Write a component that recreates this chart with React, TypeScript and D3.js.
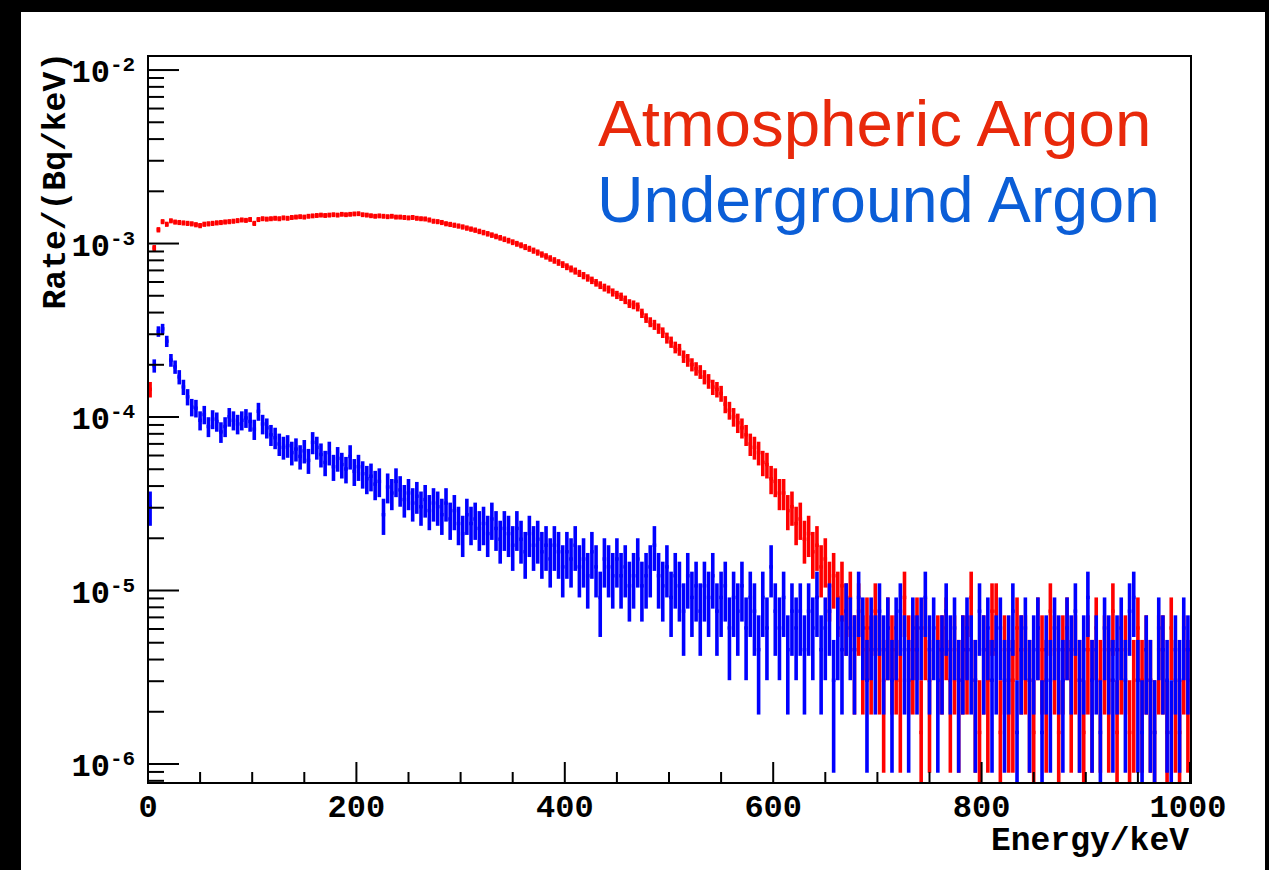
import React from "react";
import * as d3 from "d3";

// Histogram binning (keV) and the rate carried by one count (Bq/keV)
const binWidth = 4;
const countUnit = 1.52e-6;

// Atmospheric argon: counts per 4 keV bin, 0 - 1000 keV
const atmosphericCounts = [
  95, 620, 790, 880, 850, 890, 875, 870, 865, 860,
  855, 845, 835, 850, 855, 860, 866, 870, 876, 880,
  885, 892, 900, 895, 905, 860, 905, 915, 910, 915,
  920, 915, 925, 920, 930, 935, 940, 935, 945, 950,
  955, 960, 955, 960, 965, 960, 970, 965, 970, 975,
  978, 965, 960, 952, 945, 950, 945, 940, 945, 935,
  935, 930, 925, 930, 920, 915, 912, 900, 885, 880,
  870, 856, 848, 839, 830, 820, 808, 797, 786, 773,
  761, 749, 736, 723, 710, 697, 684, 670, 656, 643,
  628, 614, 599, 584, 569, 555, 540, 526, 512, 498,
  484, 470, 457, 443, 430, 417, 404, 391, 379, 367,
  358, 344, 333, 325, 312, 297, 292, 284, 261, 245,
  232, 224, 213, 202, 188, 178, 166, 161, 147, 140,
  132, 125, 120, 112, 106, 98, 95, 90, 78, 72,
  66, 61, 57, 52, 46, 44, 41, 36, 35, 29,
  28, 24, 24, 19, 20, 16, 17, 13, 14, 11,
  12, 9, 10, 7, 8, 6, 7, 5, 6, 3,
  5, 3, 4, 3, 5, 3, 2, 4, 3, 3,
  2, 6, 3, 3, 4, 1, 4, 2, 0, 3,
  3, 4, 2, 3, 2, 3, 3, 6, 2, 1,
  3, 2, 5, 5, 1, 3, 2, 2, 4, 3,
  3, 2, 1, 4, 3, 2, 5, 3, 1, 3,
  4, 2, 3, 2, 1, 3, 2, 4, 2, 3,
  2, 5, 1, 3, 3, 1, 2, 4, 2, 3,
  2, 1, 3, 3, 1, 4, 2, 1, 3, 2,
];

// Underground argon: counts per 4 keV bin, 0 - 1000 keV
const undergroundCounts = [
  20, 130, 205, 212, 180, 140, 128, 112, 98, 86,
  75, 74, 63, 68, 58, 64, 62, 54, 58, 66,
  63, 60, 63, 65, 62, 56, 71, 60, 57, 52,
  50, 46, 44, 45, 41, 43, 39, 42, 37, 47,
  44, 40, 36, 41, 34, 38, 35, 33, 39, 32,
  34, 31, 29, 30, 27, 28, 18, 26, 24, 28,
  25, 22, 24, 21, 23, 20, 22, 19, 21, 20,
  18, 21, 17, 19, 16, 14, 18, 16, 17, 15,
  16, 14, 17, 15, 13, 15, 14, 12, 15, 13,
  11, 14, 12, 13, 11, 12, 10, 12, 11, 9,
  11, 10, 12, 9, 10, 8, 11, 9, 6, 10,
  9, 8, 10, 8, 9, 7, 8, 10, 7, 8,
  9, 12, 8, 7, 9, 6, 8, 7, 5, 8,
  6, 7, 5, 7, 6, 8, 5, 6, 7, 4,
  6, 5, 7, 4, 6, 5, 3, 6, 4, 9,
  5, 4, 6, 3, 5, 4, 5, 3, 5, 4,
  6, 3, 4, 5, 2, 4, 3, 5, 4, 3,
  6, 4, 2, 4, 3, 5, 3, 4, 2, 4,
  5, 3, 2, 4, 3, 4, 6, 3, 4, 2,
  3, 5, 3, 4, 2, 3, 4, 3, 2, 5,
  3, 4, 2, 3, 4, 2, 3, 5, 1, 3,
  4, 2, 3, 4, 1, 3, 2, 4, 3, 2,
  4, 3, 5, 2, 3, 6, 2, 3, 1, 4,
  3, 2, 3, 4, 2, 5, 6, 2, 1, 3,
  2, 1, 4, 3, 2, 1, 3, 2, 4, 3,
];

const xMajorTicks = [0, 200, 400, 600, 800, 1000];
const xMinorStep = 50;
const yDecades = [-6, -5, -4, -3, -2];
const legendLabels = ["Atmospheric Argon", "Underground Argon"];
const xTitle = "Energy/keV";
const yTitle = "Rate/(Bq/keV)";

export default function App() {
  const W = 1269;
  const H = 870;
  const L = 148, R = 1191, T = 56, B = 783;
  const x = d3.scaleLinear().domain([0, 1000]).range([148, 1190]);
  const y = d3.scaleLog().domain([7.77e-7, 1.205e-2]).range([B, T]);
  const yMin = y.domain()[0];
  const mono = "'Liberation Mono', 'Courier New', monospace";
  const sans = "'Liberation Sans', Arial, Helvetica, sans-serif";

  const hist = (counts: number[], color: string, key: string) =>
    counts.map((n, i) => {
      if (n <= 0) return null;
      const e0 = i * binWidth;
      const e1 = e0 + binWidth;
      const xc = x(e0 + binWidth / 2);
      const v = n * countUnit;
      const err = Math.sqrt(n) * countUnit;
      const yv = y(v);
      const yh = y(v + err);
      const lo = v - err;
      const yl = lo > yMin ? y(lo) : B + 3;
      return (
        <g key={key + i}>
          <rect x={xc - 1.8} y={yh} width={3.6} height={Math.max(yl - yh, 1)} fill={color} />
          <rect x={x(e0) + 0.3} y={yv - 1.7} width={x(e1) - x(e0) - 0.6} height={3.4} fill={color} />
        </g>
      );
    });

  const xMinor: number[] = [];
  for (let e = 0; e <= 1000; e += xMinorStep) if (e % 200 !== 0) xMinor.push(e);

  const yMinor: number[] = [];
  for (let d = -7; d <= -2; d++) {
    for (let m = 2; m <= 9; m++) {
      const v = m * Math.pow(10, d);
      if (v >= yMin && v <= y.domain()[1]) yMinor.push(v);
    }
  }

  return (
    <svg width={W} height={H} style={{ position: "absolute", left: 0, top: 0, display: "block" }}>
      <rect x={0} y={0} width={W} height={H} fill="#000" />
      <rect x={21} y={12} width={1244} height={H - 12} fill="#fff" />
      <defs>
        <clipPath id="plotClip">
          <rect x={L + 1} y={T + 1} width={R - L - 2} height={B - T - 2} />
        </clipPath>
      </defs>
      <g clipPath="url(#plotClip)">
        {hist(atmosphericCounts, "#ff0000", "a")}
        {hist(undergroundCounts, "#0000ff", "u")}
      </g>
      {/* frame */}
      <rect x={L} y={T} width={R - L} height={B - T} fill="none" stroke="#000" strokeWidth={2} />
      {/* x ticks */}
      {xMajorTicks.map((t) => (
        <g key={"xm" + t}>
          <line x1={x(t)} x2={x(t)} y1={B} y2={B - 21} stroke="#000" strokeWidth={2} />
          <text x={x(t) - (t === 1000 ? 2 : 0)} y={817} textAnchor="middle" fontFamily={mono} fontWeight="bold" fontSize={32} fill="#000">
            {t}
          </text>
        </g>
      ))}
      {xMinor.map((t) => (
        <line key={"xn" + t} x1={x(t)} x2={x(t)} y1={B} y2={B - 11} stroke="#000" strokeWidth={2} />
      ))}
      {/* y ticks */}
      {yDecades.map((d) => {
        const yy = y(Math.pow(10, d));
        return (
          <g key={"yd" + d}>
            <line x1={L} x2={L + 31} y1={yy} y2={yy} stroke="#000" strokeWidth={2} />
            <text x={110} y={yy + 12} textAnchor="end" fontFamily={mono} fontWeight="bold" fontSize={32} fill="#000">
              10
            </text>
            <text x={110} y={yy + 1} textAnchor="start" fontFamily={mono} fontWeight="bold" fontSize={21} fill="#000">
              {"-" + Math.abs(d)}
            </text>
          </g>
        );
      })}
      {yMinor.map((v, i) => (
        <line key={"yn" + i} x1={L} x2={L + 16} y1={y(v)} y2={y(v)} stroke="#000" strokeWidth={2} />
      ))}
      {/* axis titles */}
      <text x={1189} y={850} textAnchor="end" fontFamily={mono} fontWeight="bold" fontSize={33} fill="#000">
        {xTitle}
      </text>
      <text transform="translate(65,52) rotate(-90)" textAnchor="end" fontFamily={mono} fontWeight="bold" fontSize={33} fill="#000">
        {yTitle}
      </text>
      {/* legend */}
      <text x={598} y={146} fontFamily={sans} fontSize={65.5} fill="#e8290b">
        {legendLabels[0]}
      </text>
      <text x={597} y={222} fontFamily={sans} fontSize={64.5} fill="#0b5ed7">
        {legendLabels[1]}
      </text>
    </svg>
  );
}
